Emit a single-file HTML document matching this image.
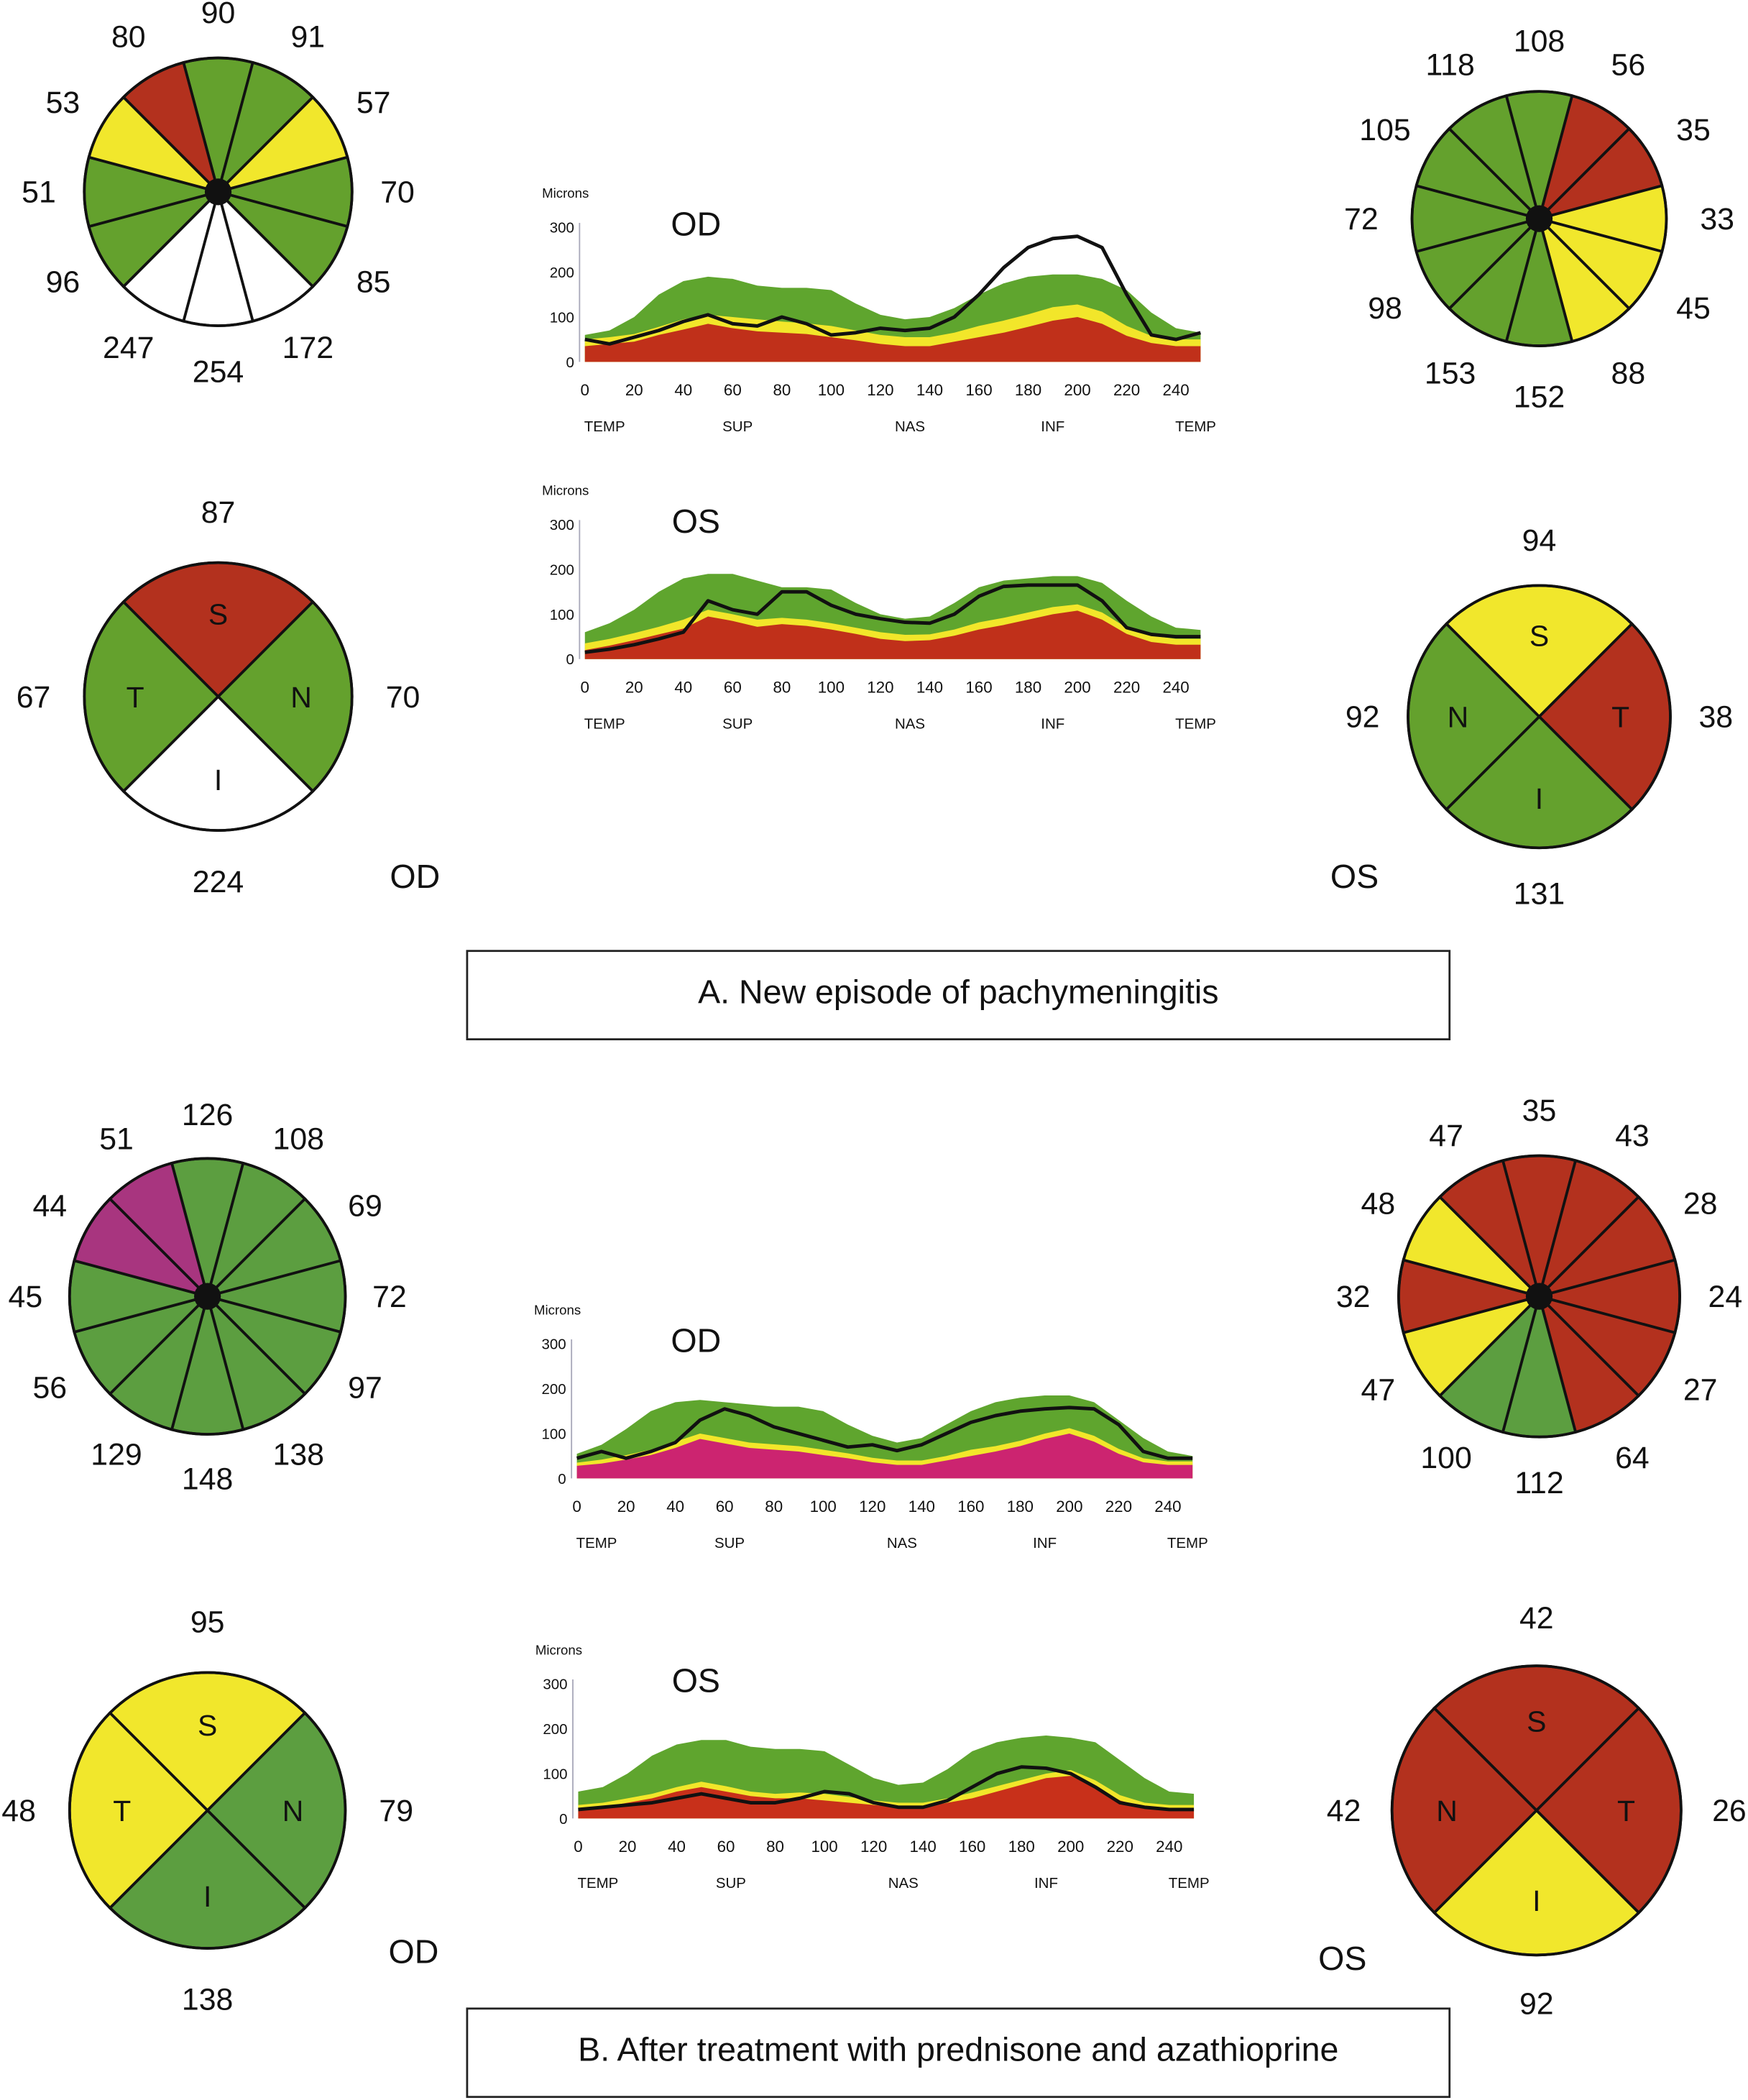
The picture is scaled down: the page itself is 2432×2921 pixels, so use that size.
<!DOCTYPE html>
<html><head><meta charset="utf-8">
<style>
html,body{margin:0;padding:0;background:#fff;}
svg{display:block;}
text{font-family:"Liberation Sans",sans-serif;fill:#111;}
</style></head>
<body>
<svg id="fig" xmlns="http://www.w3.org/2000/svg" width="2432" height="2921" viewBox="0 0 1306 1568">
<rect x="0" y="0" width="1306" height="1568" fill="#fff"/>
<g id="layer"></g>
<rect x="349" y="710" width="734" height="66" fill="none" stroke="#222" stroke-width="1.5"/>
<text x="716" y="749" font-size="25" text-anchor="middle">A. New episode of pachymeningitis</text>
<rect x="349" y="1500" width="734" height="66" fill="none" stroke="#222" stroke-width="1.5"/>
<text x="716" y="1539" font-size="25" text-anchor="middle">B. After treatment with prednisone and azathioprine</text>
<text x="310" y="663" font-size="25" text-anchor="middle">OD</text>
<text x="1012" y="663" font-size="25" text-anchor="middle">OS</text>
<text x="309" y="1466" font-size="25" text-anchor="middle">OD</text>
<text x="1003" y="1471" font-size="25" text-anchor="middle">OS</text>
</svg>
<script>
const NS="http://www.w3.org/2000/svg";
const layer=document.getElementById('layer');
const G="#64a12d",R="#b3311e",Y="#f1e72c",W="#ffffff",G2="#5c9e40",M="#a8357f";

const clockA_OD_values=[90,91,57,70,85,172,254,247,96,51,53,80];
const clockA_OD_colors=[G,G,Y,G,G,W,W,W,G,G,Y,R];
const clockA_OS_values=[108,56,35,33,45,88,152,153,98,72,105,118];
const clockA_OS_colors=[G,R,R,Y,Y,Y,G,G,G,G,G,G];
const clockB_OD_values=[126,108,69,72,97,138,148,129,56,45,44,51];
const clockB_OD_colors=[G2,G2,G2,G2,G2,G2,G2,G2,G2,G2,M,M];
const clockB_OS_values=[35,43,28,24,27,64,112,100,47,32,48,47];
const clockB_OS_colors=[R,R,R,R,R,R,G2,G2,Y,R,Y,R];
const quadA_OD_values=[87,70,224,67], quadA_OD_letters=["S","N","I","T"], quadA_OD_colors=[R,G,W,G];
const quadA_OS_values=[94,38,131,92], quadA_OS_letters=["S","T","I","N"], quadA_OS_colors=[Y,R,G,G];
const quadB_OD_values=[95,79,138,48], quadB_OD_letters=["S","N","I","T"], quadB_OD_colors=[Y,G2,G2,Y];
const quadB_OS_values=[42,26,92,42], quadB_OS_letters=["S","T","I","N"], quadB_OS_colors=[R,R,Y,R];

const tsnitPos=[0,10,20,30,40,50,60,70,80,90,100,110,120,130,140,150,160,170,180,190,200,210,220,230,240,250];
const xTicks=[0,20,40,60,80,100,120,140,160,180,200,220,240];
const yTicks=[0,100,200,300];
const regionLabels=["TEMP","SUP","NAS","INF","TEMP"];
const regionPos=[8,62,132,190,248];

const odA_green=[60,70,100,150,180,190,185,170,165,165,160,130,105,95,100,120,150,175,190,195,195,185,160,110,75,65];
const odA_yellow=[50,55,62,78,95,105,100,95,90,86,80,70,60,55,55,65,80,92,106,122,128,112,80,58,50,50];
const odA_red=[35,40,45,60,72,85,75,68,65,62,55,48,40,35,35,45,55,65,78,92,100,85,58,42,35,35];
const odA_black=[50,40,55,70,90,105,85,80,100,85,60,65,75,70,75,100,150,210,255,275,280,255,150,60,50,65];

const osA_green=[60,80,110,150,180,190,190,175,160,160,155,125,100,90,95,125,160,175,180,185,185,170,130,95,70,65];
const osA_yellow=[35,45,58,72,88,110,100,88,92,88,80,70,60,54,55,66,82,92,104,116,122,104,70,52,45,45];
const osA_red=[20,30,42,55,68,95,85,72,78,74,66,56,45,40,42,52,66,76,88,100,108,88,56,38,32,32];
const osA_black=[15,22,32,45,60,130,110,100,150,150,120,100,90,82,80,100,140,162,165,165,165,130,70,55,50,50];

const odB_green=[55,75,110,150,170,175,170,165,160,160,150,120,95,80,90,120,150,170,180,185,185,170,130,90,60,50];
const odB_yellow=[35,42,52,64,82,100,90,80,76,72,64,56,46,40,40,50,64,72,84,100,112,95,66,45,38,38];
const odB_red=[28,33,42,52,68,88,78,68,64,60,52,45,36,30,30,40,50,60,72,88,100,82,55,36,30,30];
const odB_black=[45,60,45,60,80,130,155,140,115,100,85,70,75,62,75,100,125,140,150,155,158,155,120,60,45,45];

const osB_green=[60,70,100,140,165,175,175,160,155,155,150,120,90,75,80,110,150,170,180,185,180,170,130,90,60,55];
const osB_yellow=[30,35,45,55,70,82,72,60,55,58,55,48,40,35,35,45,58,72,86,100,108,85,52,35,30,30];
const osB_red=[20,25,35,45,60,70,60,50,45,45,40,35,30,25,25,35,45,60,75,90,95,70,40,25,20,20];
const osB_black=[20,25,30,35,45,55,45,35,35,45,60,55,35,25,25,40,70,100,115,112,100,70,35,25,20,20];

function el(tag,attrs,parent){const e=document.createElementNS(NS,tag);for(const k in attrs)e.setAttribute(k,attrs[k]);(parent||layer).appendChild(e);return e;}
function pt(cx,cy,r,deg){const a=(deg-90)*Math.PI/180;return [cx+r*Math.cos(a),cy+r*Math.sin(a)];}
function wedge(cx,cy,r,a0,a1,fill,g){
  const p0=pt(cx,cy,r,a0),p1=pt(cx,cy,r,a1);
  const large=(a1-a0)>180?1:0;
  return el('path',{d:`M${cx},${cy} L${p0[0]},${p0[1]} A${r},${r} 0 ${large} 1 ${p1[0]},${p1[1]} Z`,fill:fill,stroke:'#111','stroke-width':2},g);
}
function clock(name,cx,cy,r,vals,cols,lr){
  const g=el('g',{});
  
  
  vals.forEach((v,i)=>{
    const w=wedge(cx,cy,r,i*30-15,i*30+15,cols[i],g);
    
    
    const p=pt(cx,cy,r+lr,i*30);
    const t=el('text',{x:p[0],y:p[1]+8,'font-size':23,'text-anchor':'middle'},g);
    t.textContent=v;
    
    
  });
  el('circle',{cx:cx,cy:cy,r:r,fill:'none',stroke:'#111','stroke-width':2},g);
  const d=el('circle',{cx:cx,cy:cy,r:10,fill:'#111'},g);
  
  
}
function quad(name,cx,cy,r,vals,letters,cols,lr){
  const g=el('g',{});
  
  
  vals.forEach((v,i)=>{
    const w=wedge(cx,cy,r,i*90-45,i*90+45,cols[i],g);
    
    
    const lp=pt(cx,cy,r*0.62,i*90);
    const lt=el('text',{x:lp[0],y:lp[1]+8,'font-size':22,'text-anchor':'middle'},g);
    lt.textContent=letters[i];
    
    
    const p=pt(cx,cy,r+lr,i*90);
    const t=el('text',{x:p[0],y:p[1]+8,'font-size':23,'text-anchor':'middle'},g);
    t.textContent=v;
    
    
  });
  el('circle',{cx:cx,cy:cy,r:r,fill:'none',stroke:'#111','stroke-width':2},g);
}
function tsnit(name,x0,y0,title,green,yellow,red,black,redColor){
  const sx=v=>x0+v*1.84, sy=v=>y0-v*0.335;
  const g=el('g',{});
  
  
  function area(arr,fill,nm){
    let d=`M${sx(tsnitPos[0])},${sy(0)}`;
    arr.forEach((v,i)=>{d+=` L${sx(tsnitPos[i])},${sy(v)}`;});
    d+=` L${sx(tsnitPos[tsnitPos.length-1])},${sy(0)} Z`;
    const p=el('path',{d:d,fill:fill},g);
    
    
  }
  area(green,'#5fa52e',name+'-normal-band');
  area(yellow,'#f2e62a',name+'-borderline-band');
  area(red,redColor,name+'-abnormal-band');
  let d='';
  black.forEach((v,i)=>{d+=(i?' L':'M')+sx(tsnitPos[i])+','+sy(v);});
  const ln=el('path',{d:d,fill:'none',stroke:'#111','stroke-width':2.6,'stroke-linejoin':'round'},g);
  
  
  const ax=el('line',{x1:x0-4,y1:sy(0),x2:x0-4,y2:sy(310),stroke:'#aab','stroke-width':1},g);
  
  
  yTicks.forEach(v=>{
    const t=el('text',{x:x0-8,y:sy(v)+4,'font-size':11,'text-anchor':'end',fill:'#666'},g);
    t.textContent=v;
    
    
  });
  const mt=el('text',{x:x0-32,y:sy(300)-22,'font-size':10,fill:'#666'},g);
  mt.textContent='Microns';
  
  
  xTicks.forEach(v=>{
    const t=el('text',{x:sx(v),y:y0+25,'font-size':12,'text-anchor':'middle',fill:'#777'},g);
    t.textContent=v;
    
    
  });
  regionLabels.forEach((s,i)=>{
    const t=el('text',{x:sx(regionPos[i]),y:y0+52,'font-size':11,'text-anchor':'middle',fill:'#555'},g);
    t.textContent=s;
    
    
  });
  const tt=el('text',{x:520,y:sy(300)+6,'font-size':25,'text-anchor':'middle'},g);
  tt.textContent=title;
  
  
}

clock('clock-a-od',163,143,100,clockA_OD_values,clockA_OD_colors,34);
clock('clock-a-os',1150,163,95,clockA_OS_values,clockA_OS_colors,38);
clock('clock-b-od',155,968,103,clockB_OD_values,clockB_OD_colors,33);
clock('clock-b-os',1150,968,105,clockB_OS_values,clockB_OS_colors,34);
quad('quadrant-a-od',163,520,100,quadA_OD_values,quadA_OD_letters,quadA_OD_colors,38);
quad('quadrant-a-os',1150,535,98,quadA_OS_values,quadA_OS_letters,quadA_OS_colors,34);
quad('quadrant-b-od',155,1352,103,quadB_OD_values,quadB_OD_letters,quadB_OD_colors,38);
quad('quadrant-b-os',1148,1352,108,quadB_OS_values,quadB_OS_letters,quadB_OS_colors,36);
tsnit('tsnit-a-od',437,270,'OD',odA_green,odA_yellow,odA_red,odA_black,'#c0301a');
tsnit('tsnit-a-os',437,492,'OS',osA_green,osA_yellow,osA_red,osA_black,'#c0301a');
tsnit('tsnit-b-od',431,1104,'OD',odB_green,odB_yellow,odB_red,odB_black,'#cc2470');
tsnit('tsnit-b-os',432,1358,'OS',osB_green,osB_yellow,osB_red,osB_black,'#c8301a');
</script>
</body></html>
